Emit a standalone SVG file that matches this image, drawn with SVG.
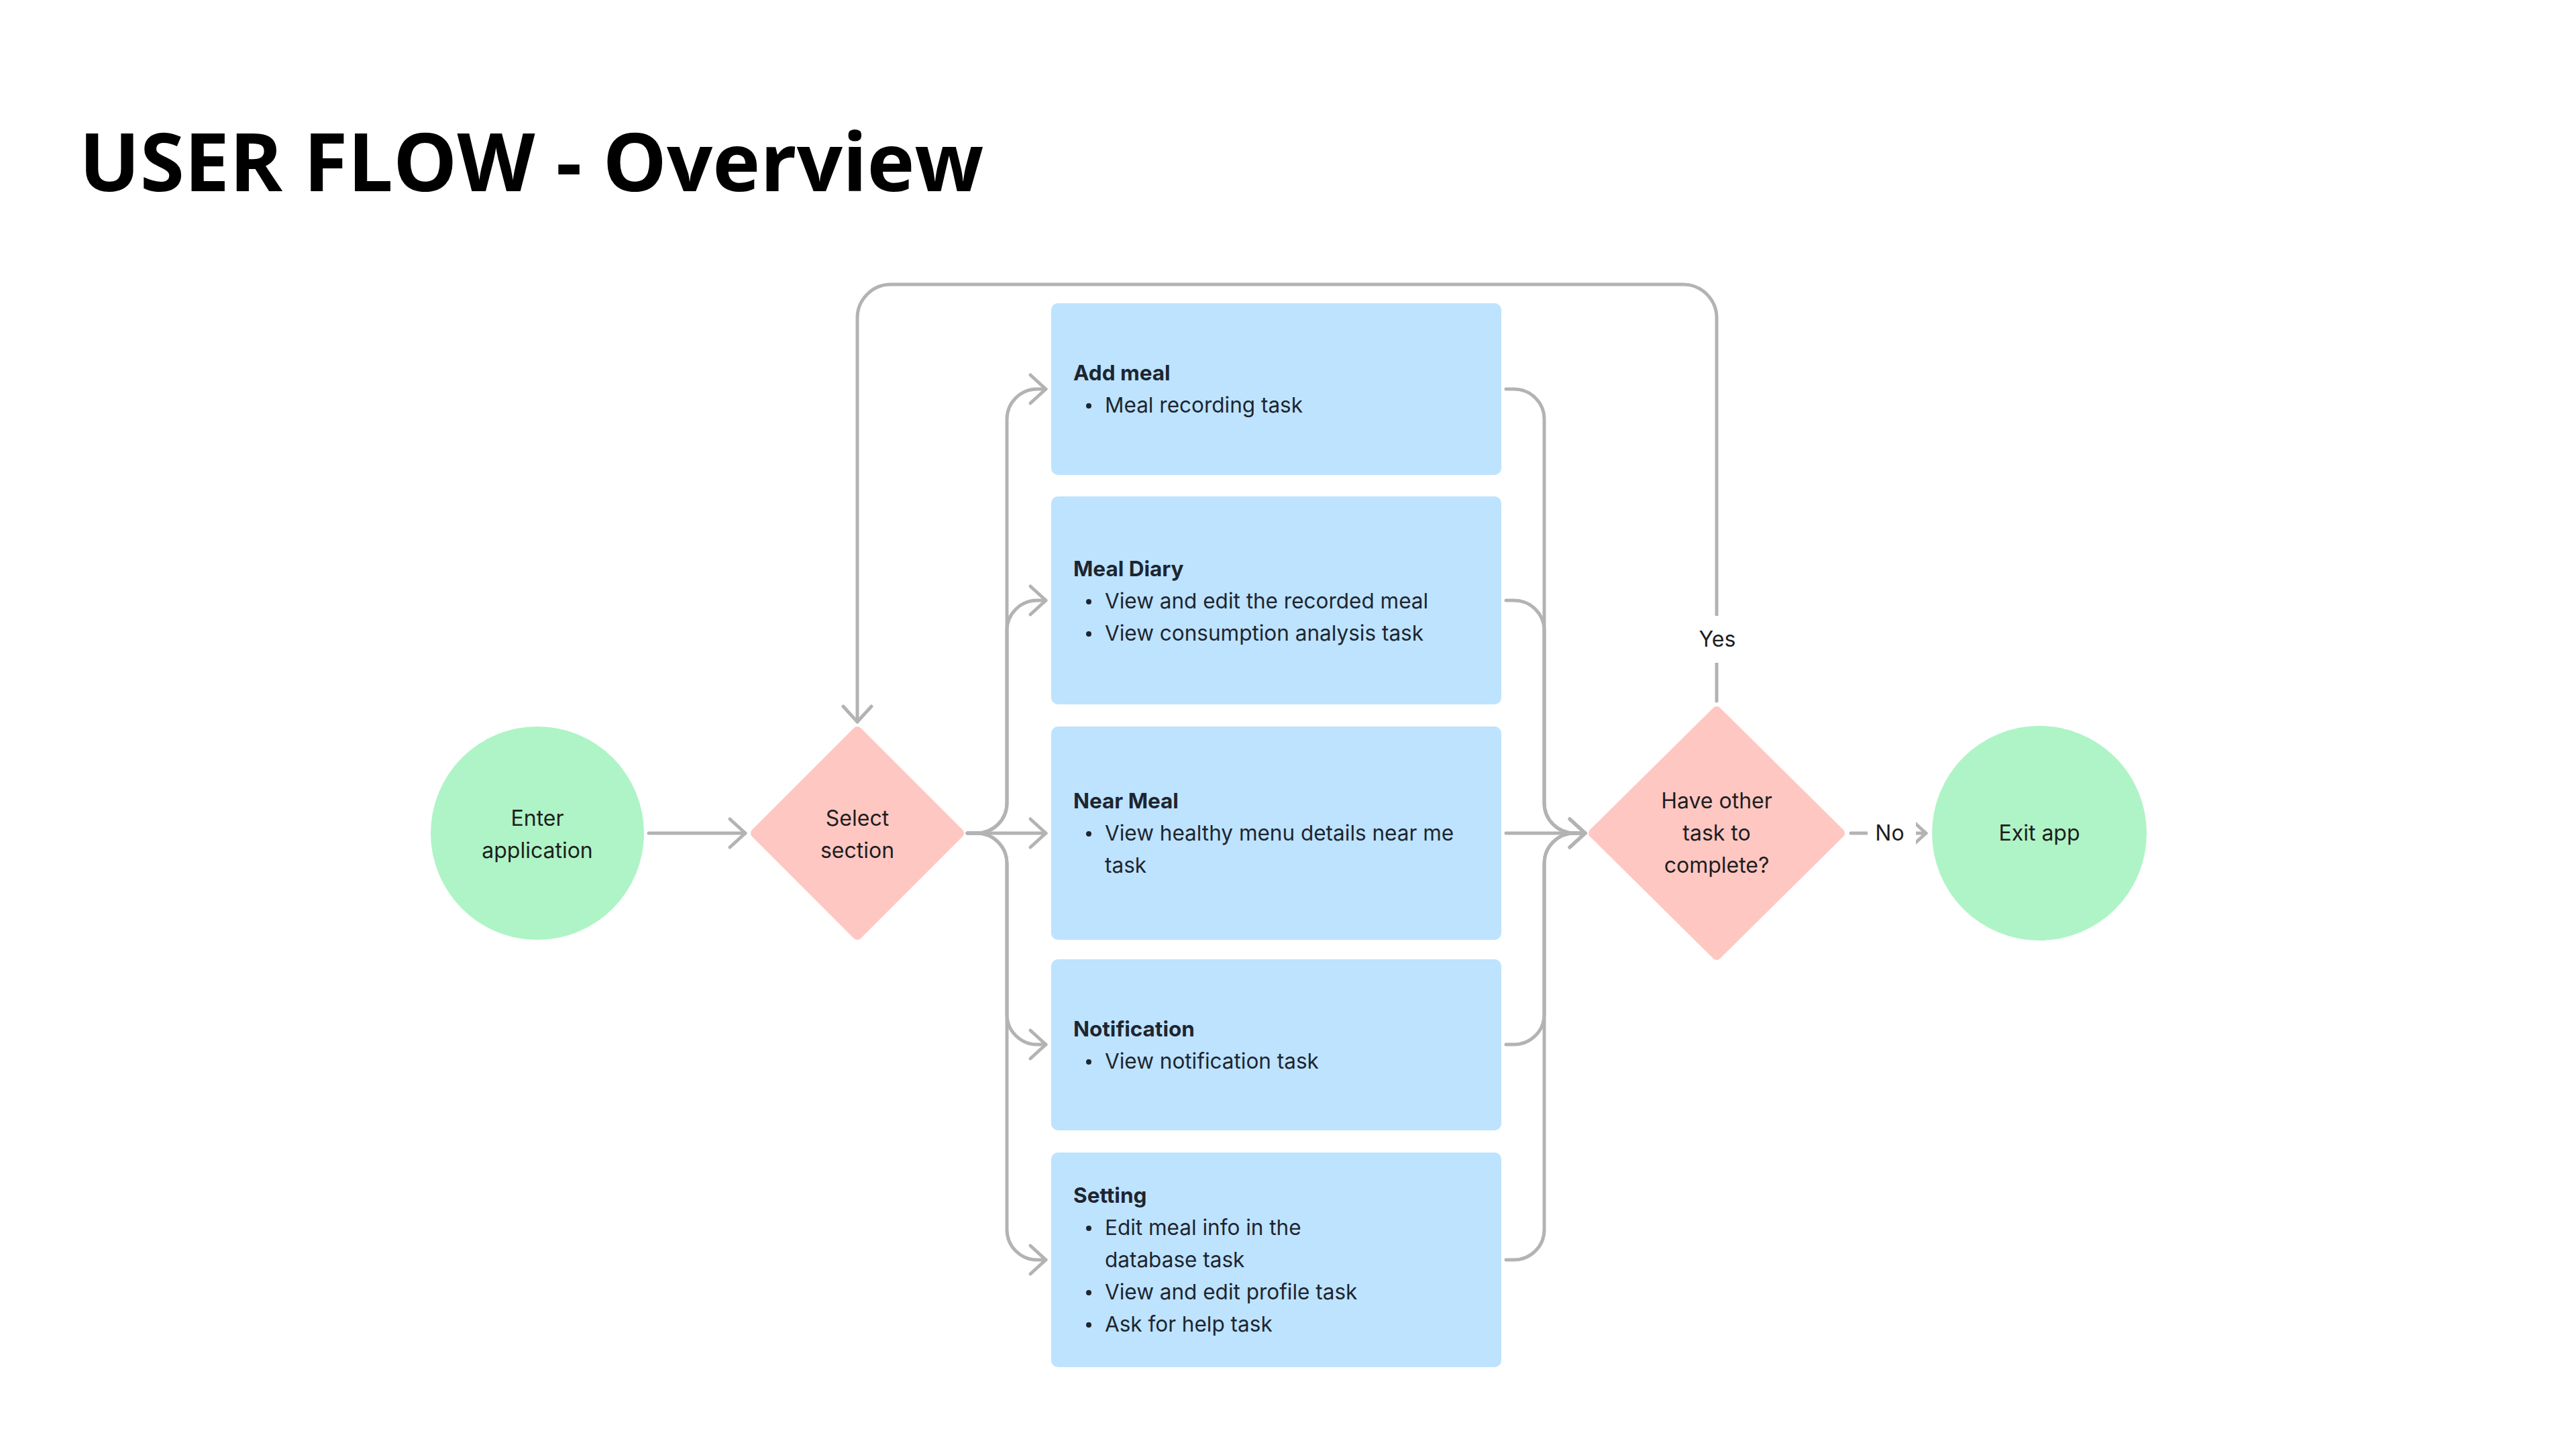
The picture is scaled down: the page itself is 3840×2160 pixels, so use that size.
<svg xmlns="http://www.w3.org/2000/svg" width="3840" height="2160" viewBox="0 0 3840 2160">
<style>
.bg{fill:#ffffff}
.term{fill:#AFF4C6}
.dec{fill:#FFC7C2;stroke:#FFC7C2;stroke-width:14;stroke-linejoin:round}
.box{fill:#BDE3FF}
.con{fill:none;stroke:#B3B3B3;stroke-width:5;stroke-linecap:round;stroke-linejoin:round}
.t{font-family:Inter,"Liberation Sans",sans-serif;font-size:32px;fill:#1E1E1E}
.c{text-anchor:middle}
.b{font-weight:700}
.bt{font-family:Inter,"Liberation Sans",sans-serif;font-size:31.5px;fill:#1E2530}
.title{font-family:"Open Sans","Liberation Sans",sans-serif;font-size:120px;font-weight:700;fill:#000000}
.lblbg{fill:#ffffff}
</style>
<defs>
<marker id="arr" markerUnits="userSpaceOnUse" markerWidth="60" markerHeight="60" viewBox="-30 -30 60 60" refX="0" refY="0" orient="auto" overflow="visible">
<path d="M-23,-21 L0,0 L-23,21" fill="none" stroke="#B3B3B3" stroke-width="5" stroke-linecap="round" stroke-linejoin="round"/>
</marker>
</defs>
<rect class="bg" x="0" y="0" width="3840" height="2160"/>
<text class="title" x="118" y="285">USER FLOW - Overview</text>

<g id="connectors">
<path class="con" marker-end="url(#arr)" d="M967,1242 L1111,1242"/>
<path class="con" marker-end="url(#arr)" d="M1442,1242 L1456,1242 A45,45 0 0 0 1501,1197 L1501,625 A45,45 0 0 1 1546,580 L1559,580"/>
<path class="con" marker-end="url(#arr)" d="M1442,1242 L1456,1242 A45,45 0 0 0 1501,1197 L1501,940 A45,45 0 0 1 1546,895 L1559,895"/>
<path class="con" marker-end="url(#arr)" d="M1442,1242 L1559,1242"/>
<path class="con" marker-end="url(#arr)" d="M1442,1242 L1456,1242 A45,45 0 0 1 1501,1287 L1501,1512 A45,45 0 0 0 1546,1557 L1559,1557"/>
<path class="con" marker-end="url(#arr)" d="M1442,1242 L1456,1242 A45,45 0 0 1 1501,1287 L1501,1833 A45,45 0 0 0 1546,1878 L1559,1878"/>
<path class="con" marker-end="url(#arr)" d="M2245,580 L2257,580 A45,45 0 0 1 2302,625 L2302,1197 A45,45 0 0 0 2347,1242 L2363,1242"/>
<path class="con" marker-end="url(#arr)" d="M2245,895 L2257,895 A45,45 0 0 1 2302,940 L2302,1197 A45,45 0 0 0 2347,1242 L2363,1242"/>
<path class="con" marker-end="url(#arr)" d="M2245,1242 L2363,1242"/>
<path class="con" marker-end="url(#arr)" d="M2245,1557 L2257,1557 A45,45 0 0 0 2302,1512 L2302,1287 A45,45 0 0 1 2347,1242 L2363,1242"/>
<path class="con" marker-end="url(#arr)" d="M2245,1878 L2257,1878 A45,45 0 0 0 2302,1833 L2302,1287 A45,45 0 0 1 2347,1242 L2363,1242"/>
<path class="con" marker-end="url(#arr)" d="M2559,1045 L2559,474 A50,50 0 0 0 2509,424 L1328,424 A50,50 0 0 0 1278,474 L1278,1076"/>
<rect class="lblbg" x="2518" y="918" width="84" height="70"/>
<text class="t c" x="2560" y="964">Yes</text>
<path class="con" marker-end="url(#arr)" d="M2759,1242 L2871,1242"/>
<rect class="lblbg" x="2784" y="1215" width="72" height="54"/>
<text class="t c" x="2817" y="1253">No</text>
</g>

<g id="enter">
<circle class="term" cx="801" cy="1242" r="159"/>
<text class="t c" x="801" y="1231">Enter</text>
<text class="t c" x="801" y="1279">application</text>
</g>

<g id="select">
<path class="dec" d="M1278,1090 L1430,1242 L1278,1394 L1126,1242 Z"/>
<text class="t c" x="1278" y="1231">Select</text>
<text class="t c" x="1278" y="1279">section</text>
</g>

<g id="add-meal">
<rect class="box" x="1567" y="452" width="671" height="256" rx="10"/>
<text class="bt b" x="1600" y="567">Add meal</text>
<circle cx="1623" cy="605" r="4" fill="#1E2530"/>
<text class="bt" x="1647" y="615">Meal recording task</text>
</g>

<g id="meal-diary">
<rect class="box" x="1567" y="740" width="671" height="310" rx="10"/>
<text class="bt b" x="1600" y="859">Meal Diary</text>
<circle cx="1623" cy="897" r="4" fill="#1E2530"/>
<text class="bt" x="1647" y="907">View and edit the recorded meal</text>
<circle cx="1623" cy="945" r="4" fill="#1E2530"/>
<text class="bt" x="1647" y="955">View consumption analysis task</text>
</g>

<g id="near-meal">
<rect class="box" x="1567" y="1083" width="671" height="318" rx="10"/>
<text class="bt b" x="1600" y="1205">Near Meal</text>
<circle cx="1623" cy="1243" r="4" fill="#1E2530"/>
<text class="bt" x="1647" y="1253">View healthy menu details near me</text>
<text class="bt" x="1647" y="1301">task</text>
</g>

<g id="notification">
<rect class="box" x="1567" y="1430" width="671" height="255" rx="10"/>
<text class="bt b" x="1600" y="1545">Notification</text>
<circle cx="1623" cy="1583" r="4" fill="#1E2530"/>
<text class="bt" x="1647" y="1593">View notification task</text>
</g>

<g id="setting">
<rect class="box" x="1567" y="1718" width="671" height="320" rx="10"/>
<text class="bt b" x="1600" y="1793">Setting</text>
<circle cx="1623" cy="1831" r="4" fill="#1E2530"/>
<text class="bt" x="1647" y="1841">Edit meal info in the</text>
<text class="bt" x="1647" y="1889">database task</text>
<circle cx="1623" cy="1927" r="4" fill="#1E2530"/>
<text class="bt" x="1647" y="1937">View and edit profile task</text>
<circle cx="1623" cy="1975" r="4" fill="#1E2530"/>
<text class="bt" x="1647" y="1985">Ask for help task</text>
</g>

<g id="decision">
<path class="dec" d="M2559,1060 L2743,1242 L2559,1424 L2375,1242 Z"/>
<text class="t c" x="2559" y="1205">Have other</text>
<text class="t c" x="2559" y="1253">task to</text>
<text class="t c" x="2559" y="1301">complete?</text>
</g>

<g id="exit">
<circle class="term" cx="3040" cy="1242" r="160"/>
<text class="t c" x="3040" y="1253">Exit app</text>
</g>
</svg>
